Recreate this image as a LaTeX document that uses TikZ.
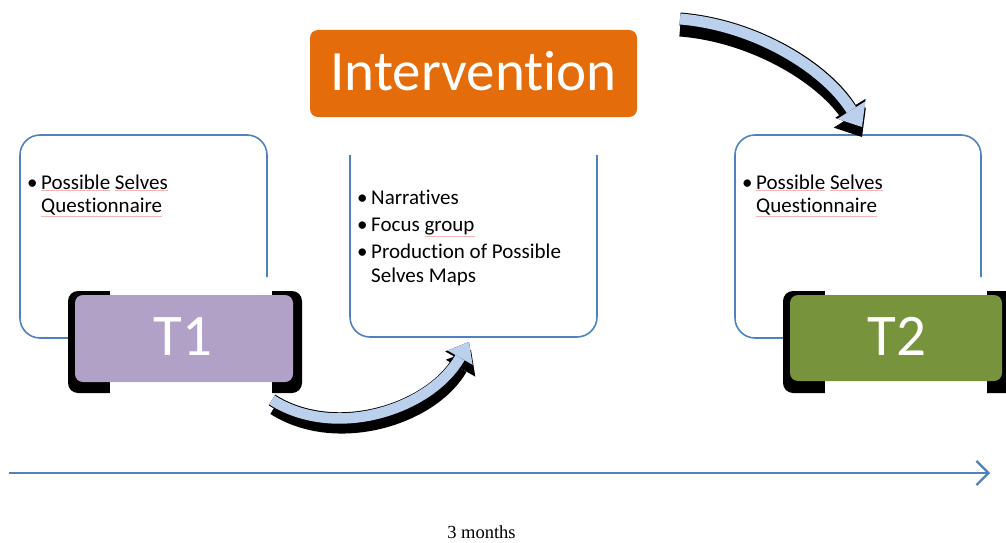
\documentclass[tikz,border=0pt]{standalone}
\usepackage{fontspec}
\setmainfont{Carlito}[RawFeature={-liga}]
\newfontfamily\timesfont{Liberation Serif}
\usetikzlibrary{arrows.meta}
\definecolor{boxblue}{HTML}{4F81BD}
\definecolor{orng}{HTML}{E46C0A}
\definecolor{purp}{HTML}{B2A1C7}
\definecolor{grn}{HTML}{77933C}
\definecolor{arrowblue}{HTML}{BBD0EC}
\definecolor{squig}{HTML}{F5B5B5}
\newcommand\sq[1]{{\color{squig}\underline{\color{black}#1}}}
\tikzset{
  frame/.style={draw=boxblue, line width=1.6pt, rounded corners=20pt},
  bodytext/.style={anchor=base west, inner sep=0pt, font=\fontsize{21}{25}\selectfont},
  bigtext/.style={anchor=base, inner sep=0pt, text=white, font=\fontsize{59}{70}\selectfont},
  shadowline/.style={line width=14pt, draw=black, -{Triangle[width=34pt,length=21pt,line width=0pt]}},
  outline/.style={line width=12.5pt, draw=black, -{Triangle[width=32pt,length=20pt,line width=0pt]}},
  bodyline/.style={line width=10.5pt, draw=arrowblue, -{Triangle[width=29pt,length=18pt,line width=0pt]}},
  shadowlineB/.style={line width=15pt, draw=black, -{Triangle[width=38pt,length=23pt,line width=0pt]}},
  outlineB/.style={line width=13pt, draw=black, -{Triangle[width=36pt,length=22pt,line width=0pt]}},
  bodylineB/.style={line width=11pt, draw=arrowblue, -{Triangle[width=33pt,length=20pt,line width=0pt]}},
}
\begin{document}
\begin{tikzpicture}[x=1pt,y=-1pt]
\useasboundingbox (0,0) rectangle (1006,543);

% frames
\draw[frame] (267,277) -- (267,135) -- (20,135) -- (20,338) -- (68,338);
\draw[frame] (350,155) -- (350,337) -- (597,337) -- (597,155);
\draw[frame] (981,277) -- (981,135) -- (735,135) -- (735,338) -- (783,338);

% Intervention
\node[fill=orng, rounded corners=8pt, minimum width=327pt, minimum height=87pt, inner sep=0pt] (intbox) at (473.5,73.5) {};
\node[bigtext, font=\fontsize{57}{68}\selectfont] (int) at (473.5,90) {Intervention};

% T1
\fill[black, rounded corners=10pt] (68,291) rectangle (302,393);
\fill[white] (110,286) rectangle (272,397);
\node[fill=purp, rounded corners=8pt, minimum width=218pt, minimum height=87pt, inner sep=0pt] (t1box) at (184,338.5) {};
\node[bigtext] (t1) at (183,355) {T1};

% T2
\fill[black, rounded corners=10pt] (783,291) rectangle (1016,393);
\fill[white] (825,286) rectangle (987,397);
\node[fill=grn, rounded corners=8pt, minimum width=212pt, minimum height=86pt, inner sep=0pt] (t2box) at (896,338) {};
\node[bigtext] (t2) at (897,355) {T2};

% texts
\node[bodytext] (b1) at (27,189) {•};
\node[bodytext] (l1a) at (41,189) {\sq{Possible} \sq{Selves}};
\node[bodytext] (l1b) at (41,212) {\sq{Questionnaire}};

\node[bodytext] (m1b) at (357,204) {•};
\node[bodytext] (m1) at (371,204) {Narratives};
\node[bodytext] (m2b) at (357,231) {•};
\node[bodytext] (m2) at (371,231) {Focus \sq{group}};
\node[bodytext] (m3b) at (357,258) {•};
\node[bodytext] (m3) at (371,258) {Production of Possible};
\node[bodytext] (m4) at (371,282) {Selves Maps};

\node[bodytext] (r1b) at (742,189) {•};
\node[bodytext] (r1a) at (756,189) {\sq{Possible} \sq{Selves}};
\node[bodytext] (r1c) at (756,212) {\sq{Questionnaire}};

% curved arrow 1
\coordinate (a1s) at (272,400);
\coordinate (a1c1) at (335,440);
\coordinate (a1c2) at (430,410);
\coordinate (a1e) at (469,342);
\draw[shadowline, transform canvas={shift={(2,8)}}] (a1s) .. controls (a1c1) and (a1c2) .. (a1e);
\draw[outline] (a1s) .. controls (a1c1) and (a1c2) .. (a1e);
\draw[bodyline] (a1s) .. controls (a1c1) and (a1c2) .. (a1e);

% curved arrow 2
\coordinate (a2s) at (680,19);
\coordinate (a2c1) at (755,25);
\coordinate (a2c2) at (825,68);
\coordinate (a2e) at (862,127);
\draw[shadowlineB, transform canvas={shift={(0,10)}}] (a2s) .. controls (a2c1) and (a2c2) .. (a2e);
\draw[outlineB] (a2s) .. controls (a2c1) and (a2c2) .. (a2e);
\draw[bodylineB] (a2s) .. controls (a2c1) and (a2c2) .. (a2e);

% timeline
\coordinate (ts) at (9,473);
\coordinate (te) at (990,473);
\draw[boxblue, line width=2.6pt, -{Straight Barb[length=12pt,width=24pt,line width=2.2pt]}] (ts) -- (te);
\node[anchor=base, inner sep=0pt, font=\timesfont\fontsize{18.5}{22}\selectfont] (months) at (481.5,538) {3 months};
\end{tikzpicture}
\end{document}
